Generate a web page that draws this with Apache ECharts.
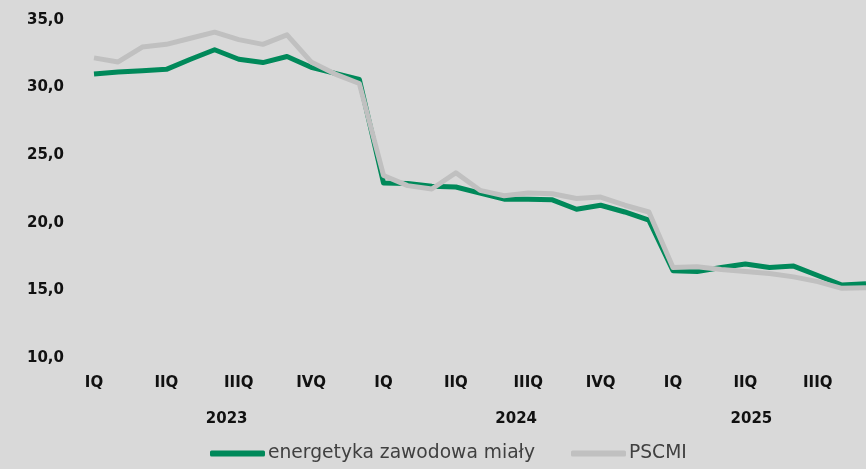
<!DOCTYPE html>
<html>
<head>
<meta charset="utf-8">
<style>
  html, body { margin: 0; padding: 0; background: #d9d9d9; }
  #chart { width: 866px; height: 469px; }
</style>
<script src="https://cdn.jsdelivr.net/npm/echarts@6/dist/echarts.min.js"></script>
</head>
<body>
<div id="chart"></div>
<script>
  // miesiące 2023-01 .. 2025-09, podpisy kwartałów co 3 miesiące
  const months = [
    '2023-01','2023-02','2023-03','2023-04','2023-05','2023-06','2023-07','2023-08','2023-09','2023-10','2023-11','2023-12',
    '2024-01','2024-02','2024-03','2024-04','2024-05','2024-06','2024-07','2024-08','2024-09','2024-10','2024-11','2024-12',
    '2025-01','2025-02','2025-03','2025-04','2025-05','2025-06','2025-07','2025-08','2025-09'
  ]
  const quarterLabels = ['IQ', 'IIQ', 'IIIQ', 'IVQ']
  const years = [
    { name: '2023', pos: 5.5 },
    { name: '2024', pos: 17.5 },
    { name: '2025', pos: 27.25 }
  ]

  const energetyka = [
    31.0, 31.15, 31.25, 31.35, 32.1, 32.8, 32.1, 31.85, 32.3, 31.5, 31.05, 30.6,
    22.95, 22.9, 22.7, 22.65, 22.2, 21.75, 21.75, 21.7, 21.0, 21.3, 20.8, 20.2,
    16.45, 16.4, 16.7, 16.95, 16.7, 16.8, 16.1, 15.4, 15.5
  ]
  const pscmi = [
    32.2, 31.9, 33.0, 33.2, 33.65, 34.1, 33.55, 33.2, 33.9, 31.9, 31.0, 30.3,
    23.5, 22.75, 22.5, 23.7, 22.4, 22.0, 22.2, 22.15, 21.8, 21.9, 21.3, 20.8,
    16.7, 16.75, 16.55, 16.4, 16.25, 16.0, 15.65, 15.15, 15.2
  ]

  const font = 'DejaVu Sans'
  const chart = echarts.init(document.getElementById('chart'))

  const option = {
    backgroundColor: '#d9d9d9',
    animation: false,
    grid: { left: 94, right: 0, top: 20, bottom: 111, containLabel: false },
    legend: {
      bottom: 1,
      left: 205,
      itemWidth: 55,
      itemHeight: 6,
      itemGap: 36,
      icon: 'roundRect',
      textStyle: { fontFamily: font, fontSize: 18.7, color: '#404040', padding: [0, 0, 0, -2] },
      data: ['energetyka zawodowa miały', 'PSCMI']
    },
    xAxis: [
      {
        type: 'category',
        data: months,
        boundaryGap: false,
        axisLine: { show: false },
        axisTick: { show: false },
        axisLabel: {
          interval: 2,
          margin: 18,
          fontFamily: font,
          fontWeight: 'bold',
          fontSize: 15,
          color: '#111',
          formatter: (v, i) => quarterLabels[Math.floor(i / 3) % 4]
        }
      },
      {
        type: 'value',
        position: 'bottom',
        offset: 36,
        min: 0,
        max: months.length - 1,
        interval: 0.25,
        axisLine: { show: false },
        axisTick: { show: false },
        splitLine: { show: false },
        axisLabel: {
          margin: 18,
          fontFamily: font,
          fontWeight: 'bold',
          fontSize: 15,
          color: '#111',
          showMinLabel: false,
          showMaxLabel: false,
          formatter: v => {
            const y = years.find(d => Math.abs(d.pos - v) < 0.01)
            return y ? y.name : ''
          }
        }
      }
    ],
    yAxis: {
      type: 'value',
      min: 10,
      max: 35,
      interval: 5,
      axisLine: { show: false },
      axisTick: { show: false },
      splitLine: { show: false },
      axisLabel: {
        margin: 30,
        fontFamily: font,
        fontWeight: 'bold',
        fontSize: 15,
        color: '#111',
        formatter: v => v.toFixed(1).replace('.', ',')
      }
    },
    series: [
      {
        name: 'energetyka zawodowa miały',
        type: 'line',
        data: energetyka,
        showSymbol: false,
        color: '#00895a',
        lineStyle: { width: 5, color: '#00895a', join: 'round' }
      },
      {
        name: 'PSCMI',
        type: 'line',
        data: pscmi,
        showSymbol: false,
        color: '#c0c0c0',
        lineStyle: { width: 5, color: '#c0c0c0', join: 'round' }
      }
    ]
  }
  chart.setOption(option)
</script>
</body>
</html>
